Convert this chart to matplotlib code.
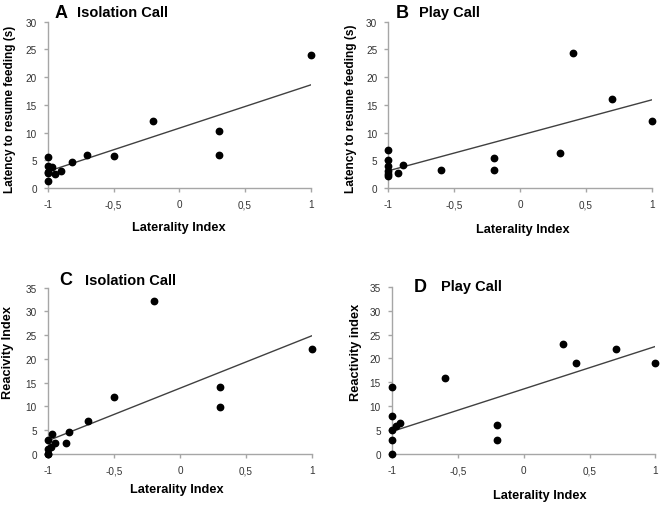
import matplotlib
matplotlib.use('Agg')
import matplotlib.pyplot as plt

plt.rcParams['font.family'] = ['Liberation Sans', 'DejaVu Sans']

# panel A - isolation call, latency
a_x = [-1, -1, -1, -1, -1, -0.97, -0.95, -0.9, -0.82, -0.7, -0.5, -0.2, 0.3, 0.3, 1]
a_y = [5.6, 3.9, 2.8, 2.7, 1.2, 3.7, 2.6, 3.0, 4.7, 5.9, 5.7, 12.0, 10.2, 6.0, 24.0]
a_fit = [3.0, 18.6]

# panel B - play call, latency
b_x = [-1, -1, -1, -1, -1, -1, -0.93, -0.89, -0.6, -0.2, -0.2, 0.3, 0.4, 0.7, 1]
b_y = [6.9, 5.0, 4.0, 3.0, 2.5, 2.2, 2.7, 4.1, 3.3, 5.4, 3.2, 6.4, 24.3, 16.0, 12.0]
b_fit = [3.1, 15.9]

# panel C - isolation call, reactivity
c_x = [-1, -1, -1, -1, -0.98, -0.97, -0.95, -0.86, -0.84, -0.7, -0.5, -0.2, 0.3, 0.3, 1]
c_y = [3.0, 1.0, 0.1, 0.0, 1.4, 4.2, 2.25, 2.25, 4.7, 6.9, 12.05, 32.1, 14.0, 9.9, 22.0]
c_fit = [2.8, 24.9]

# panel D - play call, reactivity
d_x = [-1, -1, -1, -1, -1, -0.97, -0.94, -0.6, -0.2, -0.2, 0.3, 0.4, 0.7, 1]
d_y = [14.0, 8.0, 5.0, 3.0, 0.0, 5.8, 6.4, 16.0, 6.0, 3.0, 23.1, 19.0, 22.0, 19.0]
d_fit = [4.7, 22.5]

fit_x = [-1, 1]
x_ticks = [-1, -0.5, 0, 0.5, 1]
x_tick_labels = ['-1', '-0,5', '0', '0,5', '1']

spine_col = '#a6a6a6'
tick_col = '#333333'

fig = plt.figure(figsize=(6.62, 5.06), dpi=100)


def panel(rect, xs, ys, fit, ymax):
    ax = fig.add_axes(rect)
    ax.plot(fit_x, fit, color='#404040', linewidth=1.0)
    ax.plot(xs, ys, 'o', color='black', markersize=4.6, clip_on=False, zorder=3)
    ax.set_xlim(-1, 1)
    ax.set_ylim(0, ymax)
    ax.set_xticks(x_ticks)
    ax.set_xticklabels(x_tick_labels)
    ax.set_yticks(range(0, ymax + 1, 5))
    for s in ['top', 'right']:
        ax.spines[s].set_visible(False)
    for s in ['left', 'bottom']:
        ax.spines[s].set_color(spine_col)
        ax.spines[s].set_linewidth(1.0)
    ax.tick_params(axis='both', colors=spine_col, labelcolor=tick_col,
                   labelsize=7.2, length=3, width=1.0)
    ax.tick_params(axis='x', pad=5)
    ax.tick_params(axis='y', pad=5)
    return ax


panel([0.0725, 0.6265, 0.397, 0.3287], a_x, a_y, a_fit, 30)
panel([0.5866, 0.6265, 0.398, 0.3287], b_x, b_y, b_fit, 30)
panel([0.0725, 0.1008, 0.399, 0.3287], c_x, c_y, c_fit, 35)
panel([0.5920, 0.1008, 0.398, 0.3306], d_x, d_y, d_fit, 35)

# panel letters and titles
letters = [('A', 0.0929, 0.9743), ('B', 0.6073, 0.9743),
           ('C', 0.0989, 0.4447), ('D', 0.6344, 0.4328)]
titles = [('Isolation Call', 0.1163, 0.9743), ('Play Call', 0.633, 0.9743),
          ('Isolation Call', 0.1284, 0.4447), ('Play Call', 0.6662, 0.4328)]
for t, x, y in letters:
    fig.text(x, y, t, fontsize=13, fontweight='bold', ha='center', va='center')
for t, x, y in titles:
    fig.text(x, y, t, fontsize=10.5, fontweight='bold', ha='left', va='center')

# axis labels
ylabels = [('Latency to resume feeding (s)', 0.0151, 0.7846, 8.5),
           ('Latency to resume feeding (s)', 0.530, 0.786, 8.6),
           ('Reacivity Index', 0.0125, 0.3043, 9.2),
           ('Reactivity index', 0.538, 0.304, 9.2)]
for t, x, y, fs in ylabels:
    fig.text(x, y, t, fontsize=fs, fontweight='bold', rotation=90,
             ha='center', va='center')

xlabels = [(0.2704, 0.5494), (0.7896, 0.5455), (0.2669, 0.0316), (0.8157, 0.0198)]
for x, y in xlabels:
    fig.text(x, y, 'Laterality Index', fontsize=9.2, fontweight='bold',
             ha='center', va='center')

fig.savefig('out.png', dpi=100)
